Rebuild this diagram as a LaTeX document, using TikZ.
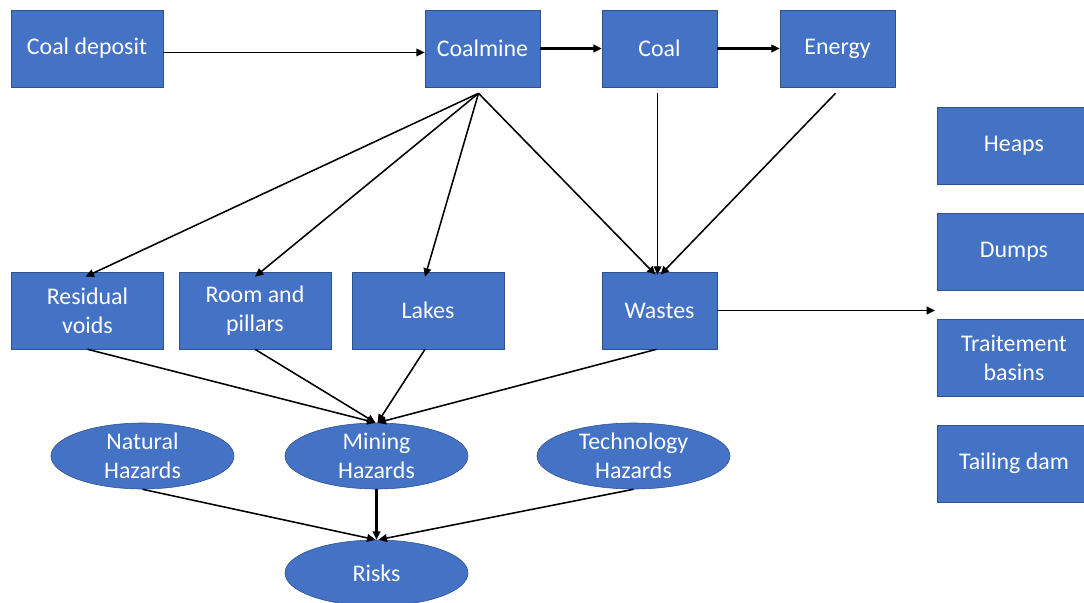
\documentclass[tikz,border=0pt]{standalone}
\usepackage{fontspec}
\setmainfont{Carlito}
\usetikzlibrary{calc,arrows.meta,shapes.geometric}
\definecolor{bleu}{HTML}{4472C4}
\definecolor{bordbleu}{HTML}{2F528F}
\tikzstyle{boite} = [rectangle, draw=bordbleu, fill=bleu, text=white, minimum height=1.925cm, minimum width=3.8cm, align=center, inner sep=0pt, font=\fontsize{17}{20.5}\selectfont]
\tikzstyle{bulle} = [ellipse, draw=bordbleu, fill=bleu, text=white, minimum height=1.65cm, minimum width=4.575cm, align=center, inner sep=0pt, font=\fontsize{17}{20.5}\selectfont]
\tikzstyle{fleche} = [-{Triangle[length=6pt,width=5.5pt]}, black, line width=1.1pt]
\tikzstyle{grosse} = [fleche, line width=2.2pt]

\begin{document}
\begin{tikzpicture}[x=0.025cm, y=-0.025cm]

        \useasboundingbox (0,0) rectangle (1084,603);
        \clip (0,0) rectangle (1084,603);

        % premiere ligne
        \node (gisement) [boite] at (87,48.5) {Coal deposit};
        \node (mine) [boite, minimum width=2.875cm] at (482.5,48.5) {Coalmine};
        \node (charbon) [boite, minimum width=2.875cm] at (659.5,48.5) {Coal};
        \node (energie) [boite, minimum width=2.875cm] at (837.5,48.5) {Energy};

        % colonne de droite
        \node (terrils) [boite, minimum width=3.85cm] at (1014,145.5) {Heaps};
        \node (decharges) [boite, minimum width=3.85cm] at (1014,251.5) {Dumps};
        \node (bassins) [boite, minimum width=3.85cm] at (1014,357.5) {Traitement\\basins};
        \node (digue) [boite, minimum width=3.85cm] at (1014,463.5) {Tailing dam};

        % deuxieme ligne
        \node (vides) [boite] at (87.5,310.5) {Residual\\voids};
        \node (piliers) [boite] at (255,310.5) {Room and\\pillars};
        \node (lacs) [boite] at (428,310.5) {Lakes};
        \node (dechets) [boite, minimum width=2.875cm] at (659.5,310.5) {Wastes};

        % aleas et risques
        \node (naturels) [bulle] at (142.5,456) {Natural\\Hazards};
        \node (miniers) [bulle] at (376.5,456) {Mining\\Hazards};
        \node (techno) [bulle, minimum width=4.825cm] at (633.5,456) {Technology\\Hazards};
        \node (risques) [bulle] at (376.5,573) {Risks};

        \coordinate (stockage) at (935,310.5);

        \draw[fleche] ($(gisement.east)+(0,4)$) -- ($(mine.west)+(0,4)$);
        \draw[grosse] (mine) -- (charbon);
        \draw[grosse] (charbon) -- (energie);

        \draw[fleche] ($(mine.south)+(-4,6)$) -- ($(vides.north)+(-2,5)$);
        \draw[fleche] ($(mine.south)+(-4,6)$) -- ($(piliers.north)+(0,5)$);
        \draw[fleche] ($(mine.south)+(-4,6)$) -- ($(lacs.north)+(-3,5)$);
        \draw[fleche] ($(mine.south)+(-4,6)$) -- ($(dechets.north)+(-4,3)$);
        \draw[fleche] ($(charbon.south)+(-2,6)$) -- ($(dechets.north)+(-2,3)$);
        \draw[fleche] ($(energie.south)+(-2,6)$) -- ($(dechets.north)+(1,3)$);
        \draw[fleche] (dechets.east) -- (stockage);

        \draw[fleche] (vides.south) -- ($(miniers.north)+(-1,0)$);
        \draw[fleche] (piliers.south) -- ($(miniers.north)+(-1,0)$);
        \draw[fleche] ($(lacs.south)+(-3,0)$) -- ($(miniers.north)+(1,0)$);
        \draw[fleche] ($(dechets.south)+(-3,0)$) -- ($(miniers.north)+(1,0)$);

        \draw[fleche] (naturels.south) -- ($(risques.north)+(-1,0)$);
        \draw[grosse] (miniers.south) -- (risques.north);
        \draw[fleche] (techno.south) -- ($(risques.north)+(2,0)$);

    \end{tikzpicture}
\end{document}
